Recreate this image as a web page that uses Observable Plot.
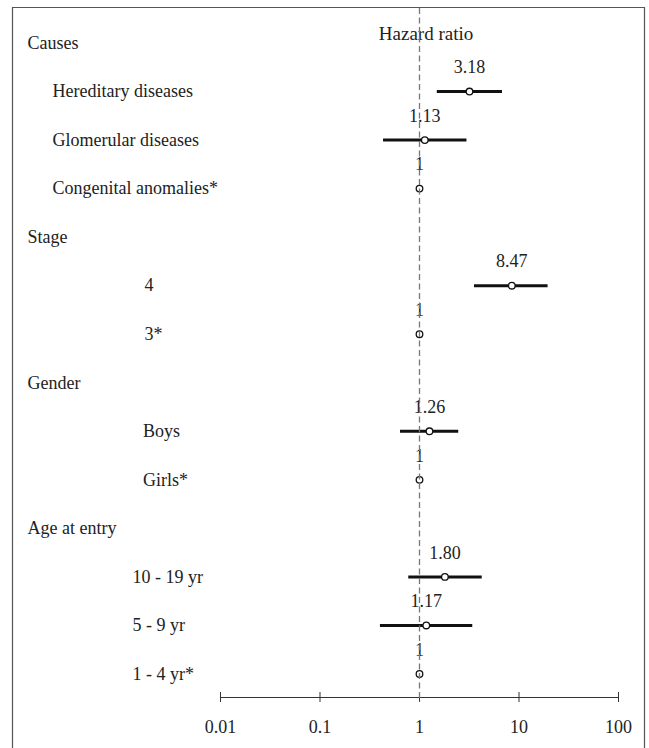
<!DOCTYPE html>
<html>
<head>
<meta charset="utf-8">
<script src="https://cdn.jsdelivr.net/npm/d3@7"></script>
<script src="https://cdn.jsdelivr.net/npm/@observablehq/plot@0.6"></script>
<style>
  html, body { margin: 0; padding: 0; background: white; }
  #chart svg { display: block; }
</style>
</head>
<body>
<div id="chart"></div>
<script>
// ---- data ----
const groups = ["Causes", "Stage", "Gender", "Age at entry"];
const categories = ["Hereditary diseases", "Glomerular diseases", "Congenital anomalies*", "4", "3*", "Boys", "Girls*", "10 - 19 yr", "5 - 9 yr", "1 - 4 yr*"];
const categoryGroup = ["Causes", "Causes", "Causes", "Stage", "Stage", "Gender", "Gender", "Age at entry", "Age at entry", "Age at entry"];
const hazardRatio = [3.18, 1.13, 1, 8.47, 1, 1.26, 1, 1.80, 1.17, 1];
const hazardLabels = ["3.18", "1.13", "1", "8.47", "1", "1.26", "1", "1.80", "1.17", "1"];
const ciLower = [1.51, 0.435, null, 3.57, null, 0.644, null, 0.78, 0.405, null];
const ciUpper = [6.82, 3.0, null, 19.6, null, 2.48, null, 4.27, 3.43, null];
const tickValues = [0.01, 0.1, 1, 10, 100];
const tickLabels = ["0.01", "0.1", "1", "10", "100"];
const axisTitle = "Hazard ratio";

// ---- build rows ----
const headers = [];
const items = [];
let r = 0;
for (const g of groups) {
  headers.push({label: g, row: r++});
  categories.forEach((c, i) => {
    if (categoryGroup[i] === g) {
      items.push({label: c, group: g, row: r++, hr: hazardRatio[i], hrLabel: hazardLabels[i], lo: ciLower[i], hi: ciUpper[i]});
    }
  });
}
const withCI = items.filter(d => d.lo != null && d.hi != null);

// label indentation (style only)
const marginLeft = 220;
const headerX = 27;
const indent = {"Causes": 52, "Stage": 144, "Gender": 142.5, "Age at entry": 132};
const textColor = "#222";

const labelMarks = [
  Plot.text(headers, {y: "row", text: "label", frameAnchor: "left", textAnchor: "start", dx: headerX - marginLeft, fill: textColor})
].concat(groups.map(g =>
  Plot.text(items.filter(d => d.group === g), {y: "row", text: "label", frameAnchor: "left", textAnchor: "start", dx: indent[g] - marginLeft, fill: textColor})
));

const chart = Plot.plot({
  width: 649,
  height: 748,
  marginLeft: marginLeft,
  marginRight: 31,
  marginTop: 8,
  marginBottom: 51,
  style: {fontFamily: "'Liberation Serif', 'Times New Roman', serif", fontSize: "18px", color: textColor, background: "white"},
  x: {type: "log", domain: [0.01, 100]},
  y: {domain: [0, 13], range: [42.5, 673.5], axis: null},
  marks: [
    Plot.frame({anchor: "bottom", stroke: "#333"}),
    Plot.axisX(tickValues, {anchor: "bottom", tickSize: 10, dy: -5, tickPadding: 17.5, stroke: "#333", fill: textColor, fontSize: 18,
      tickFormat: d => tickLabels[tickValues.indexOf(d)], label: null}),
    ...labelMarks,
    Plot.text([axisTitle], {frameAnchor: "top", dy: 18, dx: 6.5, fontSize: 19, fill: textColor}),
    Plot.ruleY(withCI, {y: "row", x1: "lo", x2: "hi", stroke: "#111", strokeWidth: 3}),
    Plot.text(items, {x: "hr", y: "row", text: "hrLabel", dy: -24, fill: textColor}),
    Plot.dot(items, {x: "hr", y: "row", r: 3.3, fill: "white", stroke: "#111", strokeWidth: 1.3}),
    Plot.ruleX([1], {stroke: "#777", strokeWidth: 1.3, strokeDasharray: "6,3.5", insetBottom: -5})
  ]
});

document.getElementById("chart").appendChild(chart);

// outer border of the figure (decoration)
d3.select(chart).append("path")
  .attr("d", "M12.5,770V7.5H644.5V770")
  .attr("fill", "none")
  .attr("stroke", "#555")
  .attr("stroke-width", 1.2);
</script>
</body>
</html>
